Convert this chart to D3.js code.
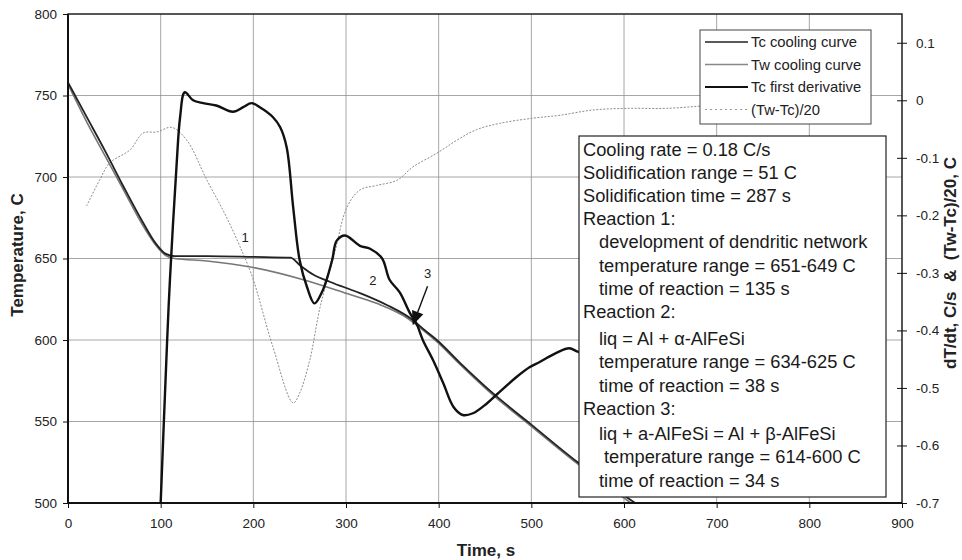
<!DOCTYPE html>
<html>
<head>
<meta charset="utf-8">
<script src="https://cdn.jsdelivr.net/npm/d3@7"></script>
<style>
  html, body { margin: 0; padding: 0; background: #fff; }
  svg { display: block; font-family: Arial, "Liberation Sans", sans-serif; }
</style>
</head>
<body>
<svg id="chart" width="962" height="560"></svg>
<script>
// ---------------- DATA ----------------
const xTicks = [0, 100, 200, 300, 400, 500, 600, 700, 800, 900];
const yLeftTicks = [500, 550, 600, 650, 700, 750, 800];
const yRightTicks = [-0.7, -0.6, -0.5, -0.4, -0.3, -0.2, -0.1, 0, 0.1];

// Tc cooling curve (time s, temperature C)
const tcTime = [0, 20, 40, 60, 80, 95, 105, 115, 150, 200, 240, 250, 265, 283, 315, 344, 372, 385, 398, 423, 460, 498, 550, 612];
const tcTemp = [758, 737, 716, 694, 673, 659, 653, 651.5, 651.5, 651, 650.5, 646, 640, 635.6, 628.8, 621.5, 612.3, 606, 600, 586, 566.6, 549, 525, 500];

// Tw cooling curve
const twTime = [0, 20, 40, 60, 80, 95, 105, 115, 150, 200, 254, 301, 333, 366, 380, 398, 423, 460, 498, 550, 610];
const twTemp = [757, 734, 713, 692, 671, 658, 652, 650, 648.5, 644.5, 637, 628.5, 622.5, 613.5, 607.5, 599, 585, 565.5, 548, 524, 499];

// Tc first derivative (time s, C/s) - right axis
const dTime = [100, 107, 110, 117, 121, 126, 135, 146, 160, 178, 189, 198, 207, 221, 229, 236, 243, 250, 258, 266, 275, 285, 290, 299, 315, 326, 339, 347, 358, 369, 376, 383, 394, 405, 416, 426, 437, 452, 463, 484, 498, 509, 527, 541, 550, 565];
const dRate = [-0.70, -0.417, -0.312, -0.117, -0.029, 0.014, 0.000, -0.005, -0.009, -0.020, -0.012, -0.005, -0.012, -0.029, -0.047, -0.082, -0.186, -0.278, -0.325, -0.353, -0.330, -0.278, -0.244, -0.235, -0.253, -0.258, -0.275, -0.312, -0.334, -0.370, -0.388, -0.417, -0.452, -0.492, -0.533, -0.547, -0.544, -0.527, -0.511, -0.481, -0.464, -0.455, -0.439, -0.431, -0.437, -0.445];

// (Tw-Tc)/20 (time s, C) - right axis
const diffTime = [20, 34, 45, 67, 81, 96, 112, 128, 150, 171, 189, 200, 221, 243, 250, 261, 272, 288, 301, 315, 333, 355, 372, 398, 420, 441, 466, 502, 531, 566, 603, 646, 690];
const diffVal = [-0.184, -0.139, -0.109, -0.086, -0.057, -0.055, -0.047, -0.069, -0.139, -0.203, -0.267, -0.312, -0.428, -0.526, -0.509, -0.451, -0.360, -0.264, -0.186, -0.156, -0.148, -0.139, -0.116, -0.092, -0.069, -0.051, -0.040, -0.031, -0.026, -0.017, -0.014, -0.014, -0.009];

const legendLabels = ["Tc cooling curve", "Tw cooling curve", "Tc first derivative", "(Tw-Tc)/20"];

const annotationLines = [
  {text: "Cooling rate = 0.18 C/s", level: 0},
  {text: "Solidification range = 51 C", level: 0},
  {text: "Solidification time = 287 s", level: 0},
  {text: "Reaction 1:", level: 0},
  {text: "development of dendritic network", level: 1},
  {text: "temperature range = 651-649 C", level: 1},
  {text: "time of reaction = 135 s", level: 1},
  {text: "Reaction 2:", level: 0},
  {text: "liq = Al + \u03B1-AlFeSi", level: 1},
  {text: "temperature range = 634-625 C", level: 1},
  {text: "time of reaction = 38 s", level: 1},
  {text: "Reaction 3:", level: 0},
  {text: "liq + a-AlFeSi = Al + \u03B2-AlFeSi", level: 1},
  {text: "temperature range = 614-600 C", level: 2},
  {text: "time of reaction = 34 s", level: 1}
];

// reaction markers (label, time, temperature)
const markerLabels = ["1", "2", "3"];
const markerTime = [191, 329, 388];
const markerTemp = [663, 637, 641];
// arrow for reaction 3: from (time, temp) to (time, temp)
const arrowFrom = [388, 633];
const arrowTo = [372, 609];

// ---------------- LAYOUT ----------------
const svg = d3.select("#chart");
const W = 962, H = 560;
const m = {left: 68, right: 60, top: 14, bottom: 57};
const x = d3.scaleLinear([0, 900], [m.left, W - m.right]);
const yL = d3.scaleLinear([500, 800], [H - m.bottom, m.top]);
const yR = d3.scaleLinear([-0.7, 0.15], [H - m.bottom, m.top]);
const x0 = m.left, x1 = W - m.right, y0 = H - m.bottom, y1 = m.top;

svg.append("defs").append("clipPath").attr("id", "plotclip")
  .append("rect").attr("x", x0).attr("y", y1).attr("width", x1 - x0).attr("height", y0 - y1);

// grid
const grid = svg.append("g");
grid.selectAll("line.v").data(xTicks.slice(1, -1)).join("line")
  .attr("x1", d => x(d)).attr("x2", d => x(d)).attr("y1", y1).attr("y2", y0)
  .attr("stroke", "#8f8f8f").attr("stroke-width", 0.8);
grid.selectAll("line.h").data(yLeftTicks.slice(1, -1)).join("line")
  .attr("y1", d => yL(d)).attr("y2", d => yL(d)).attr("x1", x0).attr("x2", x1)
  .attr("stroke", "#8f8f8f").attr("stroke-width", 0.8);

// curves
const plot = svg.append("g").attr("clip-path", "url(#plotclip)");
const zipL = (t, v) => t.map((d, i) => [d, v[i]]);

const lineL = d3.line().x(d => x(d[0])).y(d => yL(d[1])).curve(d3.curveMonotoneX);
const lineR = d3.line().x(d => x(d[0])).y(d => yR(d[1])).curve(d3.curveCatmullRom.alpha(0.5));

plot.append("path").datum(zipL(diffTime, diffVal)).attr("d", lineR)
  .attr("fill", "none").attr("stroke", "#8c8c8c").attr("stroke-width", 1).attr("stroke-dasharray", "2,1.5");
plot.append("path").datum(zipL(twTime, twTemp)).attr("d", lineL)
  .attr("fill", "none").attr("stroke", "#777").attr("stroke-width", 1.6);
plot.append("path").datum(zipL(tcTime, tcTemp)).attr("d", lineL)
  .attr("fill", "none").attr("stroke", "#222").attr("stroke-width", 1.8);
plot.append("path").datum(zipL(dTime, dRate)).attr("d", lineR)
  .attr("fill", "none").attr("stroke", "#111").attr("stroke-width", 2.4);

// frame
svg.append("rect").attr("x", x0).attr("y", y1).attr("width", x1 - x0).attr("height", y0 - y1)
  .attr("fill", "none").attr("stroke", "#111").attr("stroke-width", 1.4);
svg.append("line").attr("x1", x0).attr("x2", x0).attr("y1", y1).attr("y2", y0).attr("stroke", "#111").attr("stroke-width", 2);
svg.append("line").attr("x1", x0).attr("x2", x1).attr("y1", y0).attr("y2", y0).attr("stroke", "#111").attr("stroke-width", 2);

// axes
const axL = svg.append("g").attr("transform", `translate(${x0},0)`)
  .call(d3.axisLeft(yL).tickValues(yLeftTicks).tickSize(5).tickPadding(6).tickFormat(d3.format("d")));
const axB = svg.append("g").attr("transform", `translate(0,${y0})`)
  .call(d3.axisBottom(x).tickValues(xTicks).tickSize(5).tickPadding(10).tickFormat(d3.format("d")));
const axR = svg.append("g").attr("transform", `translate(${x1},0)`)
  .call(d3.axisRight(yR).tickValues(yRightTicks).tickSize(5).tickPadding(9)
    .tickFormat(d => d === 0 ? "0" : d3.format(".1f")(d).replace("\u2212", "-")));
[axL, axB, axR].forEach(a => {
  a.select(".domain").remove();
  a.selectAll(".tick line").attr("stroke", "#111").attr("stroke-width", 1);
  a.selectAll(".tick text").attr("font-size", 13.5).attr("fill", "#222").attr("font-family", "Arial, 'Liberation Sans', sans-serif");
});
axR.selectAll(".tick line").attr("x1", -5).attr("x2", 5);

// axis titles
svg.append("text").attr("transform", `translate(23,255) rotate(-90)`)
  .attr("text-anchor", "middle").attr("font-weight", "bold").attr("font-size", 17).attr("fill", "#222")
  .text("Temperature, C");
svg.append("text").attr("x", 486).attr("y", 556)
  .attr("text-anchor", "middle").attr("font-weight", "bold").attr("font-size", 17).attr("fill", "#222")
  .text("Time, s");
svg.append("text").attr("transform", `translate(956,263) rotate(-90)`)
  .attr("text-anchor", "middle").attr("font-weight", "bold").attr("font-size", 17).attr("fill", "#222")
  .attr("xml:space", "preserve").style("white-space", "pre")
  .text("dT/dt, C/s  &  (Tw-Tc)/20, C");

// reaction markers
svg.selectAll("text.marker").data(markerLabels).join("text")
  .attr("x", (d, i) => x(markerTime[i])).attr("y", (d, i) => yL(markerTemp[i]) + 5)
  .attr("text-anchor", "middle").attr("font-size", 13).attr("fill", "#222").text(d => d);

const ax1 = x(arrowFrom[0]), ay1 = yL(arrowFrom[1]), ax2 = x(arrowTo[0]), ay2 = yL(arrowTo[1]);
const ang = Math.atan2(ay2 - ay1, ax2 - ax1);
const hl = 14, hw = 6;
const bx = ax2 - hl * Math.cos(ang), by = ay2 - hl * Math.sin(ang);
svg.append("line").attr("x1", ax1).attr("y1", ay1).attr("x2", bx).attr("y2", by)
  .attr("stroke", "#111").attr("stroke-width", 1.4);
svg.append("path")
  .attr("d", `M${ax2},${ay2}L${bx + hw * Math.sin(ang)},${by - hw * Math.cos(ang)}L${bx - hw * Math.sin(ang)},${by + hw * Math.cos(ang)}Z`)
  .attr("fill", "#111");

// legend
const lg = svg.append("g");
lg.append("rect").attr("x", 700).attr("y", 30).attr("width", 171).attr("height", 94)
  .attr("fill", "#fff").attr("stroke", "#444").attr("stroke-width", 1);
const legStyles = [
  {stroke: "#222", w: 1.4, dash: null},
  {stroke: "#888", w: 1.4, dash: null},
  {stroke: "#111", w: 2, dash: null},
  {stroke: "#999", w: 1, dash: "2,3"}
];
legendLabels.forEach((lab, i) => {
  const cy = 42 + i * 22.5;
  lg.append("line").attr("x1", 705).attr("x2", 748).attr("y1", cy).attr("y2", cy)
    .attr("stroke", legStyles[i].stroke).attr("stroke-width", legStyles[i].w)
    .attr("stroke-dasharray", legStyles[i].dash);
  lg.append("text").attr("x", 751).attr("y", cy + 5).attr("font-size", 14.8).attr("fill", "#222").text(lab);
});

// annotation box
const ab = svg.append("g");
ab.append("rect").attr("x", 579).attr("y", 136).attr("width", 307).attr("height", 361)
  .attr("fill", "#fff").attr("stroke", "#222").attr("stroke-width", 1.2);
const indent = [583, 599, 604];
annotationLines.forEach((ln, i) => {
  const cy = 149 + 23.2 * i + (i >= 8 ? 4 : 0) + (i >= 12 ? 2 : 0) + (i >= 14 ? 1 : 0);
  ab.append("text").attr("x", indent[ln.level]).attr("y", cy + 6.5)
    .attr("font-size", 18.3).attr("fill", "#1a1a1a").text(ln.text);
});
</script>
</body>
</html>
